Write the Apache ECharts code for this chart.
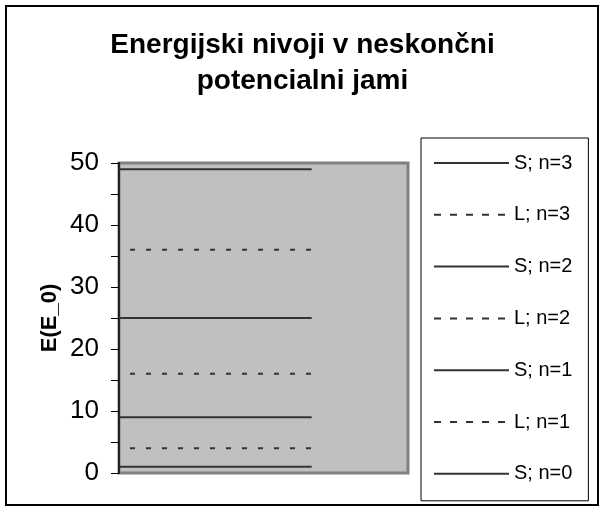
<!DOCTYPE html>
<html>
<head>
<meta charset="utf-8">
<script src="https://cdn.jsdelivr.net/npm/echarts@6/dist/echarts.min.js"></script>
<style>
  html, body { margin: 0; padding: 0; background: #fff; }
  #chart { width: 605px; height: 512px; }
</style>
</head>
<body>
<div id="chart"></div>
<script>
// energy levels, top to bottom as in the legend
const levelNames = ['S; n=3', 'L; n=3', 'S; n=2', 'L; n=2', 'S; n=1', 'L; n=1', 'S; n=0'];
const levelEnergies = [49, 36, 25, 16, 9, 4, 1];
const levelX = [0, 2];        // each level is drawn from x=0 to x=2
const xRange = [0, 3];
const yTicks = [0, 10, 20, 30, 40, 50];

const font = 'Arial, "Liberation Sans", sans-serif';
const lineColor = '#333333';

var dom = document.getElementById('chart');
var myChart = echarts.init(dom, null, { renderer: 'canvas' });

function isDashed(name) {
  return name.charAt(0) === 'L';
}

var series = levelNames.map(function (name, i) {
  return {
    name: name,
    type: 'line',
    symbol: 'none',
    silent: true,
    animation: false,
    lineStyle: {
      color: lineColor,
      width: 2,
      type: isDashed(name) ? [5, 11] : 'solid',
      dashOffset: 5
    },
    data: levelX.map(x => [x, levelEnergies[i]])
  };
});

var option = {
  backgroundColor: '#ffffff',
  animation: false,
  title: {
    text: 'Energijski nivoji v neskončni\npotencialni jami',
    left: 'center',
    top: 22,
    textStyle: {
      fontFamily: font,
      fontSize: 28,
      fontWeight: 'bold',
      color: '#000',
      lineHeight: 36
    }
  },
  legend: {
    orient: 'vertical',
    left: 421,
    top: 138,
    itemWidth: 75,
    itemHeight: 20,
    itemGap: 31.8,
    padding: [15, 16, 17, 12],
    borderColor: '#000',
    borderWidth: 1,
    selectedMode: false,
    itemStyle: { opacity: 0 },
    textStyle: { fontFamily: font, fontSize: 20, color: '#000' },
    data: levelNames.map(name => ({
      name: name,
      lineStyle: isDashed(name)
        ? { type: [7, 9], width: 2, color: lineColor, dashOffset: 0 }
        : { type: 'solid', width: 2, color: lineColor }
    }))
  },
  grid: {
    left: 119,
    top: 163,
    width: 289,
    height: 310,
    show: true,
    backgroundColor: '#c0c0c0',
    borderColor: '#808080',
    borderWidth: 3
  },
  xAxis: {
    type: 'value',
    min: xRange[0],
    max: xRange[1],
    show: false
  },
  yAxis: {
    type: 'value',
    min: 0,
    max: 50,
    interval: 5,
    name: 'E(E_0)',
    nameLocation: 'middle',
    nameGap: 58,
    nameRotate: 90,
    nameTextStyle: { fontFamily: font, fontSize: 22, fontWeight: 'bold', color: '#000' },
    axisLine: { show: true, lineStyle: { color: '#222', width: 2 } },
    axisTick: { show: true, inside: false, length: 8, lineStyle: { color: '#000', width: 1 } },
    axisLabel: {
      margin: 20,
      fontFamily: font,
      fontSize: 26,
      color: '#000',
      formatter: v => (yTicks.indexOf(v) >= 0 ? String(v) : '')
    },
    splitLine: { show: false }
  },
  graphic: [{
    type: 'rect',
    shape: { x: 6, y: 6, width: 592, height: 499 },
    style: { fill: null, stroke: '#000', lineWidth: 2 },
    silent: true,
    z: 100
  }],
  series: series
};

myChart.setOption(option);
</script>
</body>
</html>
